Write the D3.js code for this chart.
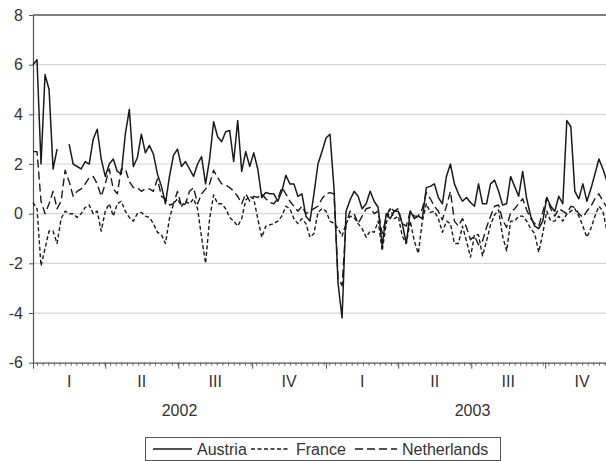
<!DOCTYPE html>
<html>
<head>
<meta charset="utf-8">
<script src="https://cdn.jsdelivr.net/npm/d3@7"></script>
<style>
  body { margin: 0; background: #fff; }
  svg { display: block; font-family: "Liberation Sans", Arial, sans-serif; }
</style>
</head>
<body>
<script>
// series sampled every 5 days from 1 Jan 2002
var startDate = new Date(2002, 0, 1);
var stepDays = 5;

var austria = [
    6.0, 6.2, 2.0, 5.6, 5.0, 1.8, 2.6, null, null, 2.8,
    2.0, 1.9, 1.8, 2.1, 2.0, 3.0, 3.4, 2.2, 1.5, 2.0,
    2.2, 1.7, 1.6, 3.2, 4.2, 1.9, 2.25, 3.2, 2.45, 2.75,
    2.4, 1.6, 1.1, 0.4, 1.5, 2.35, 2.6, 1.9, 2.1, 1.8,
    1.5, 2.0, 2.3, 1.2, 2.2, 3.7, 3.1, 2.9, 3.3, 3.35,
    2.1, 3.75, 1.7, 2.5, 1.9, 2.45, 1.8, 0.65, 0.85, 0.8,
    0.8, 0.5, 0.9, 1.55, 1.2, 1.2, 0.7, 0.8, -0.1, -0.3,
    0.8, 2.0, 2.5, 3.05, 3.2, 1.0, -2.8, -4.2, 0.1, 0.55,
    0.9, 0.7, 0.2, 0.4, 0.9, 0.5, 0.25, -1.3, 0.0, -0.2,
    0.1, 0.1, -0.4, -1.2, 0.1, -0.2, -0.1, -0.2, 1.05, 1.1,
    1.2, 0.65, 0.4, 1.5, 2.0, 1.2, 0.8, 0.5, 0.65, 0.45,
    0.3, 1.2, 0.4, 0.4, 1.2, 1.35, 0.9, 0.35, 0.4, 1.5,
    1.1, 0.7, 1.7, 0.6, -0.1, -0.5, -0.6, -0.3, 0.65, 0.3,
    0.1, 0.7, 0.4, 3.75, 3.5, 0.9, 0.6, 1.2, 0.5, 1.0,
    1.6, 2.2, 1.8, 1.3
];

var france = [
    0.45, 0.2, -2.1, -1.4, -0.7, -0.7, -1.2, -0.2, 0.1, 0.0,
    0.0, -0.15, 0.0, 0.25, 0.35, 0.0, 0.1, -0.7, 0.1, 0.4,
    -0.1, 0.4, 0.5, 0.1, -0.15, -0.3, 0.0, 0.05, -0.1, -0.15,
    -0.4, -0.75, -0.85, -1.2, -0.2, 0.4, 0.6, 0.3, 0.5, 0.4,
    0.6, 0.2, -0.95, -2.0, -0.2, 0.75, 0.4, 0.4, 0.2, -0.15,
    -0.3, -0.5, -0.2, 0.55, 0.7, 0.6, -0.2, -0.95, -0.5, -0.45,
    -0.4, -0.3, -0.1, 0.3, 0.2, -0.2, -0.4, -0.2, -0.4, -0.95,
    -0.8, 0.05, 0.2, 0.1, -0.3, -0.4, -0.6, -0.9, -0.4, -0.1,
    -0.15, -0.4, -0.6, -0.95, -0.7, -0.75, -0.3, -1.5, -0.4, 0.2,
    -0.2, -0.1, -0.9, -1.2, -0.3, -1.1, -1.6, -0.3, 0.4, 0.05,
    0.1, -0.2, -0.75, -0.3, -0.4, -1.2, -1.2, -0.5, -1.1, -1.75,
    -0.85, -0.85, -1.7, -1.1, -0.45, -0.05, 0.15, -0.9, -1.5, -0.3,
    -0.3, -0.1, -0.1, -0.3, -0.6, -0.8, -1.55, -0.8, 0.1, -0.3,
    -0.3, -0.1, -0.3, 0.0, 0.1, 0.2, -0.1, -0.5, -0.95, -0.6,
    -0.1, 0.3, 0.1, -0.7
];

var netherlands = [
    2.5, 2.5, 0.5, 0.0, 0.4, 0.9, 0.2, 0.5, 1.75, 1.3,
    0.7, 0.9, 1.0, 1.2, 1.45, 1.5, 1.2, 0.7, 1.2, 1.8,
    1.0, 0.8, 1.8, 1.8, 1.3, 1.05, 1.05, 0.9, 1.0, 1.0,
    0.9, 1.4, 0.7, 0.6, 0.35, 0.4, 0.9, 0.3, 0.4, 0.9,
    1.05, 0.4, 0.8, 1.0, 1.2, 1.75, 1.45, 1.2, 1.15, 1.05,
    0.9, 0.7, 0.4, 0.8, 0.5, 0.7, 0.65, 0.8, 0.6, 0.45,
    0.4, 0.6, 1.05, 0.8, 0.5, 0.3, 0.1, 0.3, 0.0, 0.1,
    0.2, 0.3, 0.6, 0.8, 0.85, 0.8, -2.6, -2.9, -0.4, 0.1,
    0.0, -0.4, -0.1, 0.2, 0.25, 0.0, 0.1, -0.8, -0.15, 0.25,
    0.1, 0.2, -0.4, -0.5, 0.1, -0.1, -0.1, 0.2, 0.85, 0.6,
    0.3, 0.1, -0.25, 0.3, 0.9, -0.3, -0.5, -0.2, -0.55, -1.05,
    -0.9, -1.25, -1.1, -0.55, -0.1, 0.3, 0.35, -0.25, -0.55, 0.05,
    0.2, 0.4, 0.6, 0.15, -0.2, -0.4, -0.5, 0.05, 0.65, 0.2,
    -0.1, 0.2, 0.1, 0.0, 0.3, 0.25, 0.0, -0.15, 0.1, 0.3,
    0.6, 0.8, 0.5, 0.25
];

var yTicks = [-6, -4, -2, 0, 2, 4, 6, 8];
var quarterLabels = ["I", "II", "III", "IV"];
var seriesNames = ["Austria", "France", "Netherlands"];

var width = 606,
    height = 461;

var fontSize = 16;

var dates = austria.map(function (d, i) {
    return d3.timeDay.offset(startDate, i * stepDays);
});

var x = d3.scaleTime()
    .domain([new Date(2002, 0, 1), new Date(2004, 0, 1)])
    .range([33, 619]);

var y = d3.scaleLinear()
    .domain([-6, 8])
    .range([362.7, 15]);

var svg = d3.select('body')
    .append('svg')
    .attr('width', width)
    .attr('height', height);

// gridlines
svg.append('g')
    .selectAll('line')
    .data(yTicks.filter(function (t) { return t > -6 && t < 8; }))
    .enter()
    .append('line')
    .attr('x1', 33)
    .attr('x2', width)
    .attr('y1', function (d) { return y(d); })
    .attr('y2', function (d) { return y(d); })
    .attr('stroke', '#d6d6d6')
    .attr('stroke-width', 1.2);

// top border
svg.append('line')
    .attr('x1', 33).attr('x2', width)
    .attr('y1', y(8)).attr('y2', y(8))
    .attr('stroke', '#555')
    .attr('stroke-width', 1.4);

// y axis (plain hyphen for negatives, like the original)
var yAxis = svg.append('g')
    .attr('transform', 'translate(33,0)')
    .call(d3.axisLeft(y).tickValues(yTicks).tickSize(4).tickPadding(6).tickSizeOuter(0)
        .tickFormat(function (d) { return String(d); }));
yAxis.select('.domain').attr('stroke', '#555').attr('stroke-width', 1.2);
yAxis.selectAll('.tick line').attr('stroke', '#555');
yAxis.selectAll('text')
    .attr('font-size', fontSize)
    .attr('fill', '#333')
    .attr('font-family', '"Liberation Sans", Arial, sans-serif');

// x axis: weekly minor ticks, quarterly major ticks
var xEnd = new Date(2004, 0, 1);
var xMinor = svg.append('g')
    .attr('transform', 'translate(0,' + y(-6) + ')')
    .call(d3.axisBottom(x).ticks(d3.timeWeek.every(1)).tickSize(3).tickFormat('').tickSizeOuter(0));
xMinor.select('.domain').attr('stroke', '#555').attr('stroke-width', 1.2);
xMinor.selectAll('.tick line').attr('stroke', '#666');

var quarters = d3.timeMonth.every(3).range(new Date(2002, 0, 1), xEnd);
var xMajor = svg.append('g')
    .attr('transform', 'translate(0,' + y(-6) + ')')
    .call(d3.axisBottom(x).tickValues(quarters).tickSize(6).tickFormat(''));
xMajor.select('.domain').remove();
xMajor.selectAll('.tick line').attr('stroke', '#555');

svg.append('g')
    .selectAll('text')
    .data(quarters)
    .enter()
    .append('text')
    .attr('x', function (d) {
        var next = d3.timeMonth.offset(d, 3);
        return x(new Date((d.getTime() + next.getTime()) / 2));
    })
    .attr('y', 387)
    .attr('text-anchor', 'middle')
    .attr('font-size', fontSize)
    .attr('fill', '#333')
    .text(function (d) { return quarterLabels[d.getMonth() / 3]; });

var years = d3.timeYear.range(new Date(2002, 0, 1), xEnd);
svg.append('g')
    .selectAll('text')
    .data(years)
    .enter()
    .append('text')
    .attr('x', function (d) {
        var next = d3.timeYear.offset(d, 1);
        return x(new Date((d.getTime() + next.getTime()) / 2));
    })
    .attr('y', 416)
    .attr('text-anchor', 'middle')
    .attr('font-size', fontSize)
    .attr('fill', '#333')
    .text(function (d) { return d.getFullYear(); });

// lines
var styles = [
    { data: austria, dash: null, width: 1.5 },
    { data: france, dash: '4,2.5', width: 1.4 },
    { data: netherlands, dash: '8,4', width: 1.4 }
];

var line = d3.line()
    .defined(function (d) { return d[1] !== null; })
    .x(function (d) { return x(d[0]); })
    .y(function (d) { return y(d[1]); });

styles.slice().reverse().forEach(function (s) {
    var pts = s.data.map(function (v, i) { return [dates[i], v]; });
    svg.append('path')
        .datum(pts)
        .attr('d', line)
        .attr('fill', 'none')
        .attr('stroke', '#1a1a1a')
        .attr('stroke-width', s.width)
        .attr('stroke-linejoin', 'round')
        .attr('stroke-dasharray', s.dash);
});

// legend
var legend = svg.append('g');
legend.append('rect')
    .attr('x', 145.5).attr('y', 437.5)
    .attr('width', 355).attr('height', 23)
    .attr('fill', 'none')
    .attr('stroke', '#555')
    .attr('stroke-width', 1);

var legendItems = [
    { name: seriesNames[0], dash: null, x1: 153, x2: 192, tx: 197 },
    { name: seriesNames[1], dash: '4,2.5', x1: 251, x2: 290, tx: 296 },
    { name: seriesNames[2], dash: '8,4', x1: 355, x2: 397, tx: 402 }
];
legendItems.forEach(function (it) {
    legend.append('line')
        .attr('x1', it.x1).attr('x2', it.x2)
        .attr('y1', 449).attr('y2', 449)
        .attr('stroke', '#1a1a1a')
        .attr('stroke-width', 1.4)
        .attr('stroke-dasharray', it.dash);
    legend.append('text')
        .attr('x', it.tx)
        .attr('y', 454.5)
        .attr('font-size', fontSize)
        .attr('fill', '#333')
        .text(it.name);
});
</script>
</body>
</html>
